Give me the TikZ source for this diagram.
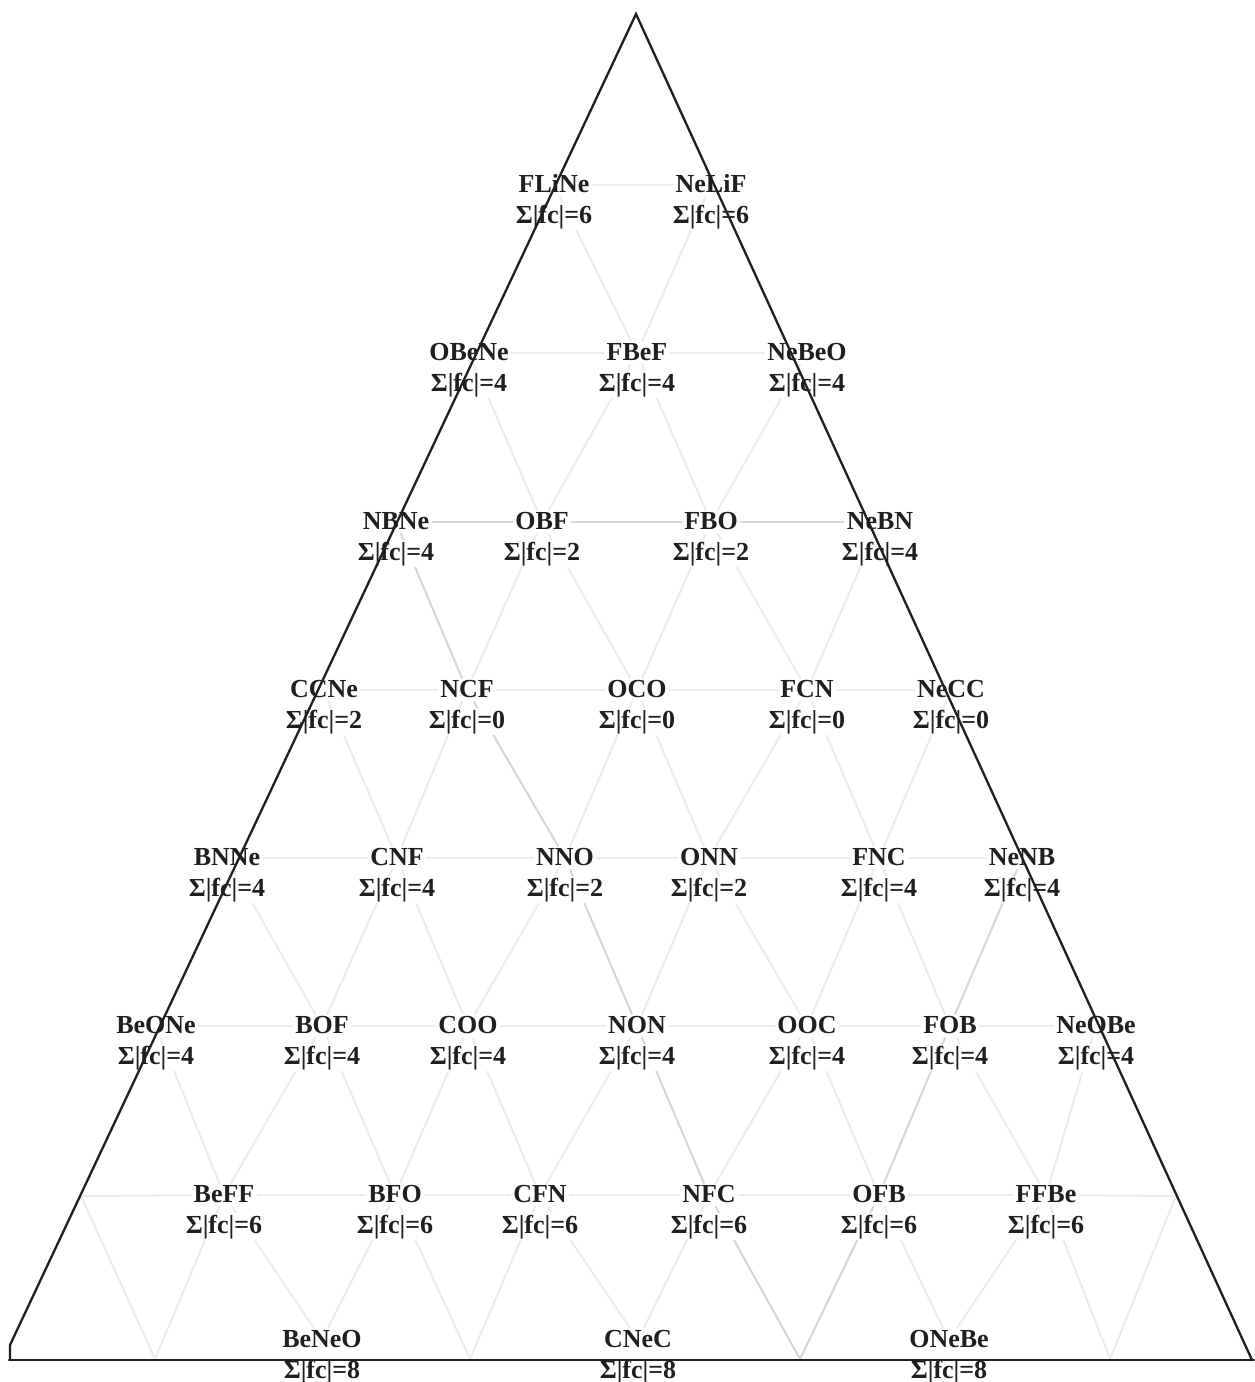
\documentclass[tikz,border=0pt]{standalone}
\usepackage{fontspec}
\setmainfont{Liberation Serif}
\usetikzlibrary{backgrounds}

\definecolor{ink}{HTML}{1F1F1F}
\definecolor{gridlight}{HTML}{ECECEC}
\definecolor{gridmid}{HTML}{D6D6D6}

\tikzset{
  formula/.style={font=\fontsize{13pt}{15pt}\selectfont\bfseries, text=ink,
    fill=white, inner sep=1pt, text height=8pt, text depth=1pt, anchor=base},
  fcsum/.style={font=\fontsize{13pt}{15pt}\selectfont\bfseries, text=ink,
    fill=white, inner sep=1pt, text height=9pt, text depth=2.5pt, anchor=base},
  gl/.style={draw=gridlight, line width=1pt},
  gm/.style={draw=gridmid, line width=1pt},
  frame/.style={draw=ink, line width=1.15pt, line join=miter, line cap=round}
}

% one lattice site: formula on top, sum of |formal charges| below
\newcommand\molnode[5]{%
  \node[formula] (#1) at (#2,#3) {#4};
  \node[fcsum] (#1-s) at (#2,#3+31) {Σ|fc|=#5};
}

\begin{document}
\begin{tikzpicture}[x=0.5pt,y=-0.5pt]
\useasboundingbox (0,0) rectangle (1254,1382);

% row 1
\molnode{fline}{554}{192}{FLiNe}{6}
\molnode{nelif}{711}{192}{NeLiF}{6}
% row 2
\molnode{obene}{469}{360}{OBeNe}{4}
\molnode{fbef}{637}{360}{FBeF}{4}
\molnode{nebeo}{807}{360}{NeBeO}{4}
% row 3
\molnode{nbne}{396}{529}{NBNe}{4}
\molnode{obf}{542}{529}{OBF}{2}
\molnode{fbo}{711}{529}{FBO}{2}
\molnode{nebn}{880}{529}{NeBN}{4}
% row 4
\molnode{ccne}{324}{697}{CCNe}{2}
\molnode{ncf}{467}{697}{NCF}{0}
\molnode{oco}{637}{697}{OCO}{0}
\molnode{fcn}{807}{697}{FCN}{0}
\molnode{necc}{951}{697}{NeCC}{0}
% row 5
\molnode{bnne}{227}{865}{BNNe}{4}
\molnode{cnf}{397}{865}{CNF}{4}
\molnode{nno}{565}{865}{NNO}{2}
\molnode{onn}{709}{865}{ONN}{2}
\molnode{fnc}{879}{865}{FNC}{4}
\molnode{nenb}{1022}{865}{NeNB}{4}
% row 6
\molnode{beone}{156}{1033}{BeONe}{4}
\molnode{bof}{322}{1033}{BOF}{4}
\molnode{coo}{468}{1033}{COO}{4}
\molnode{non}{637}{1033}{NON}{4}
\molnode{ooc}{807}{1033}{OOC}{4}
\molnode{fob}{950}{1033}{FOB}{4}
\molnode{neobe}{1096}{1033}{NeOBe}{4}
% row 7
\molnode{beff}{224}{1202}{BeFF}{6}
\molnode{bfo}{395}{1202}{BFO}{6}
\molnode{cfn}{540}{1202}{CFN}{6}
\molnode{nfc}{709}{1202}{NFC}{6}
\molnode{ofb}{879}{1202}{OFB}{6}
\molnode{ffbe}{1046}{1202}{FFBe}{6}
% row 8
\molnode{beneo}{322}{1347}{BeNeO}{8}
\molnode{cnec}{638}{1347}{CNeC}{8}
\molnode{onebe}{949}{1347}{ONeBe}{8}

% unlabeled lattice sites on the frame
\coordinate (l7) at (81,1196);
\coordinate (r7) at (1176,1196);
\coordinate (q1) at (155,1359);
\coordinate (q2) at (470,1359);
\coordinate (q3) at (800,1359);
\coordinate (q4) at (1110,1359);

\begin{scope}[on background layer]
  \fill[white] (0,0) rectangle (1254,1382);
  % horizontal lattice lines
  \draw[gl] (fline) -- (nelif);
  \draw[gl] (obene) -- (fbef);  \draw[gl] (fbef) -- (nebeo);
  \draw[gm] (nbne) -- (obf);    \draw[gm] (obf) -- (fbo);   \draw[gm] (fbo) -- (nebn);
  \draw[gl] (ccne) -- (ncf);    \draw[gl] (ncf) -- (oco);   \draw[gl] (oco) -- (fcn);
  \draw[gl] (fcn) -- (necc);
  \draw[gl] (bnne) -- (cnf);    \draw[gl] (cnf) -- (nno);   \draw[gl] (nno) -- (onn);
  \draw[gl] (onn) -- (fnc);     \draw[gl] (fnc) -- (nenb);
  \draw[gl] (beone) -- (bof);   \draw[gl] (bof) -- (coo);   \draw[gl] (coo) -- (non);
  \draw[gl] (non) -- (ooc);     \draw[gl] (ooc) -- (fob);   \draw[gl] (fob) -- (neobe);
  \draw[gl] (l7) -- (beff);     \draw[gl] (beff) -- (bfo);  \draw[gl] (bfo) -- (cfn);
  \draw[gl] (cfn) -- (nfc);     \draw[gl] (nfc) -- (ofb);   \draw[gl] (ofb) -- (ffbe);
  \draw[gl] (ffbe) -- (r7);
  % row 1 -> row 2
  \draw[gl] (fline) -- (fbef);  \draw[gl] (nelif) -- (fbef);
  % row 2 -> row 3
  \draw[gl] (obene) -- (obf);   \draw[gl] (fbef) -- (obf);
  \draw[gl] (fbef) -- (fbo);    \draw[gl] (nebeo) -- (fbo);
  % row 3 -> row 4
  \draw[gm] (nbne) -- (ncf);    \draw[gl] (obf) -- (ncf);   \draw[gl] (obf) -- (oco);
  \draw[gl] (fbo) -- (oco);     \draw[gl] (fbo) -- (fcn);   \draw[gl] (nebn) -- (fcn);
  % row 4 -> row 5
  \draw[gl] (ccne) -- (cnf);    \draw[gl] (ncf) -- (cnf);   \draw[gm] (ncf) -- (nno);
  \draw[gl] (oco) -- (nno);     \draw[gl] (oco) -- (onn);   \draw[gl] (fcn) -- (onn);
  \draw[gl] (fcn) -- (fnc);     \draw[gl] (necc) -- (fnc);
  % row 5 -> row 6
  \draw[gl] (bnne) -- (bof);    \draw[gl] (cnf) -- (bof);   \draw[gl] (cnf) -- (coo);
  \draw[gl] (nno) -- (coo);     \draw[gm] (nno) -- (non);   \draw[gl] (onn) -- (non);
  \draw[gl] (onn) -- (ooc);     \draw[gl] (fnc) -- (ooc);   \draw[gl] (fnc) -- (fob);
  \draw[gm] (nenb) -- (fob);
  % row 6 -> row 7
  \draw[gl] (beone) -- (beff);  \draw[gl] (bof) -- (beff);  \draw[gl] (bof) -- (bfo);
  \draw[gl] (coo) -- (bfo);     \draw[gl] (coo) -- (cfn);   \draw[gl] (non) -- (cfn);
  \draw[gm] (non) -- (nfc);     \draw[gl] (ooc) -- (nfc);   \draw[gl] (ooc) -- (ofb);
  \draw[gm] (fob) -- (ofb);     \draw[gl] (fob) -- (ffbe);  \draw[gl] (neobe) -- (ffbe);
  % row 7 -> base
  \draw[gl] (l7) -- (q1);       \draw[gl] (beff) -- (q1);   \draw[gl] (beff) -- (beneo);
  \draw[gl] (bfo) -- (beneo);   \draw[gl] (bfo) -- (q2);    \draw[gl] (cfn) -- (q2);
  \draw[gl] (cfn) -- (cnec);    \draw[gl] (nfc) -- (cnec);  \draw[gm] (nfc) -- (q3);
  \draw[gm] (ofb) -- (q3);      \draw[gl] (ofb) -- (onebe); \draw[gl] (ffbe) -- (onebe);
  \draw[gl] (ffbe) -- (q4);     \draw[gl] (r7) -- (q4);
\end{scope}

% outer triangle, drawn over the labels
\coordinate (apex) at (636,14);
\coordinate (bl) at (10,1345);
\coordinate (blfoot) at (10,1360);
\coordinate (br) at (1252,1360);
\draw[frame] (blfoot) -- (bl) -- (apex) -- (br);
\draw[frame] (9,1360) -- (1254,1360);
\end{tikzpicture}
\end{document}
